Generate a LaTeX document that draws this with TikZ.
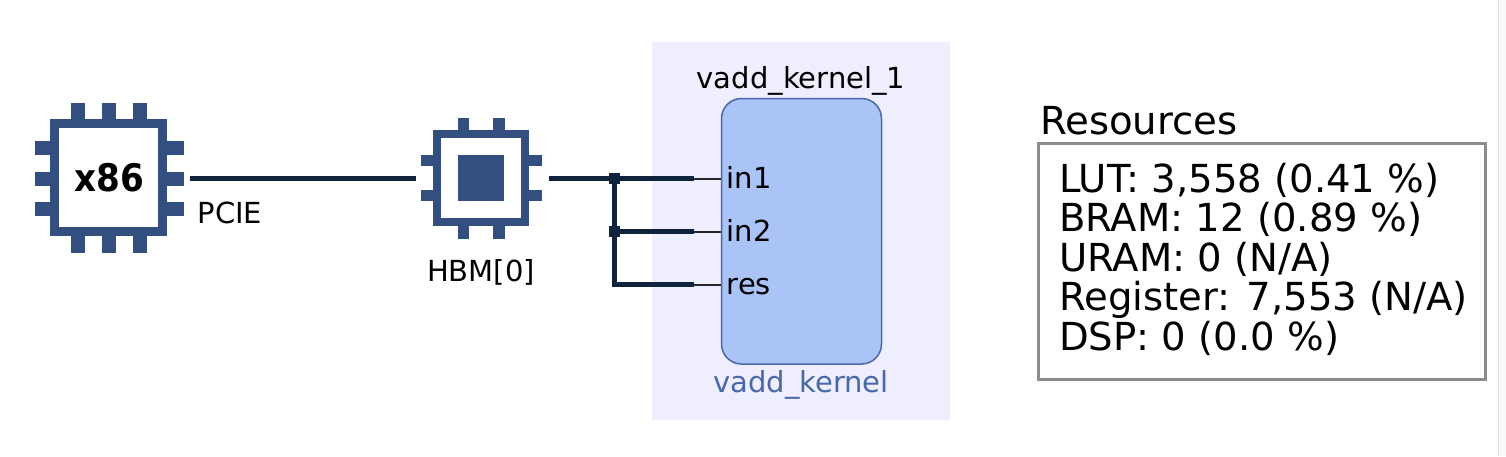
\documentclass[tikz,border=0pt]{standalone}
\usepackage{fontspec}
\setmainfont{DejaVu Sans}
\newfontfamily\chipfont{DejaVu Sans Condensed}[BoldFont={DejaVu Sans Condensed Bold}]
\usetikzlibrary{positioning}

\definecolor{chipblue}{HTML}{334F80}
\definecolor{wirenavy}{HTML}{10233C}
\definecolor{regionlilac}{HTML}{EEEEFE}
\definecolor{kernelblue}{HTML}{AAC4F8}
\definecolor{kernelline}{HTML}{4A68A8}

\tikzset{
  chip/.style={draw=chipblue, fill=white, line width=#1, inner sep=0pt},
  pin/.style={fill=chipblue, draw=none},
  wire/.style={draw=wirenavy, line width=4.6pt},
  stub/.style={draw=black!85, line width=2pt},
  junction/.style={fill=wirenavy, inner sep=0pt, minimum size=11.5pt},
  lbl/.style={font=\fontsize{29}{30}\selectfont, inner sep=0pt, anchor=base west},
  reslbl/.style={font=\fontsize{38.6}{39.5}\selectfont, inner sep=0pt}
}

\begin{document}
\begin{tikzpicture}[x=1pt,y=-1pt]
  \useasboundingbox (0,0) rectangle (1506,456);
  \fill [black!2] (1498,0) rectangle (1506,456);
  \draw [black!12, line width=1pt] (1498.5,0) -- (1498.5,456);

  % region and kernel
  \fill [regionlilac] (652,42) rectangle (950,420);
  \node [draw=kernelline, fill=kernelblue, line width=1.5pt, rounded corners=20pt,
         minimum width=160pt, minimum height=265.5pt, inner sep=0pt] (kernel) at (801.5,231.25) {};
  \node [lbl, anchor=base] (kernelname) at (801,88) {vadd\_kernel\_1};
  \node [lbl, anchor=base, text=kernelline] (kerneltype) at (801,392) {vadd\_kernel};
  \node [lbl] (in1) at (726.5,188) {in1};
  \node [lbl] (in2) at (726.5,241) {in2};
  \node [lbl] (res) at (726.5,294) {res};

  % x86 chip
  \foreach \x in {78,109,139.5} \fill [pin] (\x-7,103) rectangle (\x+7,253);
  \foreach \y in {147.5,178.5,208.5} \fill [pin] (34.5,\y-7) rectangle (184,\y+7);
  \node [chip=9pt, minimum size=108pt] (x86) at (108.75,177.75)
        {\hspace{1.5pt}\fontsize{38}{40}\selectfont\chipfont\bfseries x86};

  % HBM chip
  \foreach \x in {463.25,498.75} \fill [pin] (\x-5.75,117.5) rectangle (\x+5.75,239);
  \foreach \y in {160.25,195.25} \fill [pin] (420.5,\y-5.75) rectangle (542,\y+5.75);
  \node [chip=7.5pt, minimum size=88pt] (hbm) at (481,178) {};
  \node [fill=chipblue, inner sep=0pt, minimum size=45.5pt] (hbmcore) at (481,178) {};

  \node [lbl] (pcie) at (197.5,223) {PCIE};
  \node [lbl, anchor=base] (hbmlabel) at (481,281) {HBM[0]};

  % connectors
  \coordinate (x86port) at (190,178.5);
  \coordinate (hbmin) at (415.5,178.5);
  \coordinate (hbmout) at (548.5,178.5);
  \coordinate (wire1) at (694,178.5);
  \coordinate (wire2) at (694,231.5);
  \coordinate (wire3) at (694,284.5);
  \coordinate (port1) at (721,178.5);
  \coordinate (port2) at (721,231.5);
  \coordinate (port3) at (721,284.5);
  \node [junction] (split1) at (614.5,178.5) {};
  \node [junction] (split2) at (614.5,231.5) {};

  \draw [wire] (x86port) -- (hbmin);
  \draw [wire] (hbmout) -- (wire1);
  \draw [wire] (split1) -- (split2) -- (wire2);
  \draw [wire] (split2) |- (wire3);
  \draw [stub] (wire1) -- (port1);
  \draw [stub] (wire2) -- (port2);
  \draw [stub] (wire3) -- (port3);

  % resources
  \node [reslbl, anchor=base west] (restitle) at (1040,134) {Resources};
  \node [draw=black!45, line width=3pt, fill=white, minimum width=447pt, minimum height=236pt,
         inner sep=0pt] (resbox) at (1262,261.5) {};
  \node [reslbl, align=left, anchor=north west] (restext) at (1059,163)
        {LUT: 3,558 (0.41 \%)\\BRAM: 12 (0.89 \%)\\URAM: 0 (N/A)\\Register: 7,553 (N/A)\\DSP: 0 (0.0 \%)};
\end{tikzpicture}
\end{document}
